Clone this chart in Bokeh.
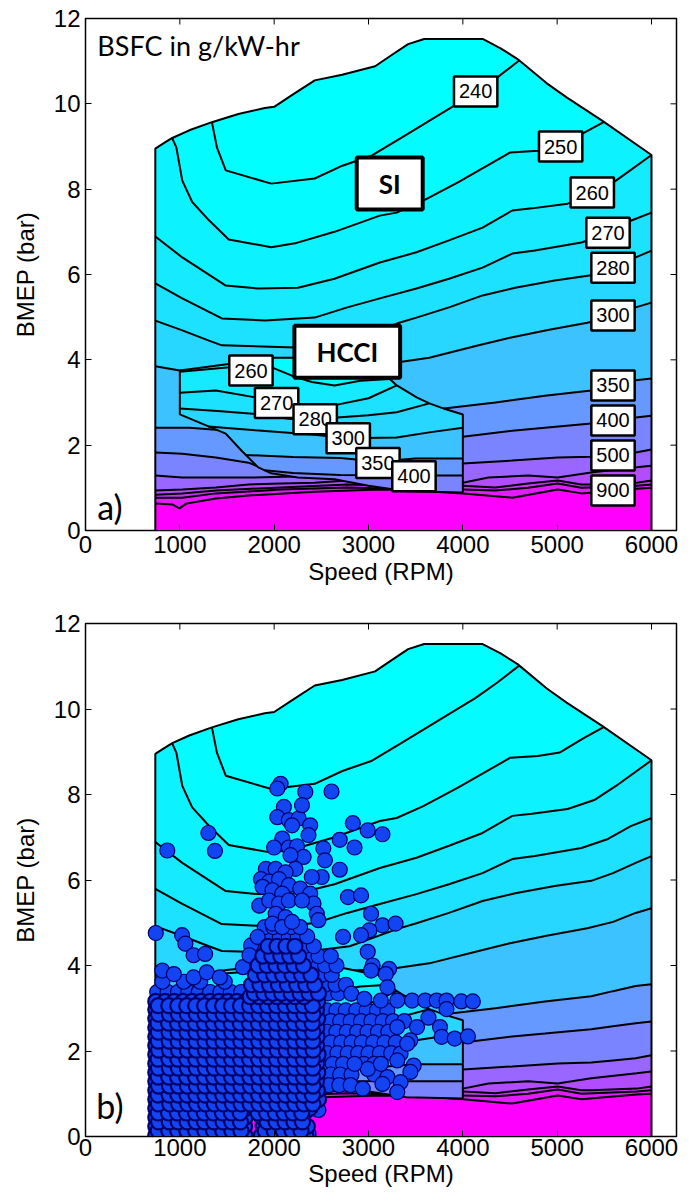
import math
from bokeh.plotting import figure
from bokeh.layouts import column
from bokeh.models import Label, FixedTicker, Range1d
from bokeh.embed import file_html
from bokeh.resources import INLINE

# ---------------- axes ----------------
X_TICKS = [0, 1000, 2000, 3000, 4000, 5000, 6000]
Y_TICKS = [0, 2, 4, 6, 8, 10, 12]
X_MAX = 6265
Y_MAX = 12

# ---------------- SI map: full-load envelope ----------------
ENV_X = [740, 830, 920, 1100, 1340, 1620, 1900, 2000, 2200, 2430, 2720, 3070, 3250, 3420, 3590, 4210, 4400, 4580, 4890, 5100, 5480, 6000]
ENV_Y = [8.95, 9.08, 9.20, 9.38, 9.57, 9.76, 9.90, 9.93, 10.22, 10.55, 10.68, 10.88, 11.15, 11.40, 11.52, 11.52, 11.30, 11.05, 10.48, 10.15, 9.60, 8.80]

# ---------------- SI BSFC contour lines (g/kW-hr) ----------------
SI240_X = [1340, 1393, 1487, 1969, 2429, 2723, 3037, 3351, 3874, 4136, 4366, 4600]
SI240_Y = [9.57, 8.98, 8.44, 8.13, 8.25, 8.55, 8.79, 9.21, 9.91, 10.26, 10.62, 11.02]
SI250_X = [920, 963, 1026, 1131, 1309, 1518, 1969, 2220, 2639, 3120, 3298, 3581, 3948, 4503, 4796, 5026, 5267, 5497]
SI250_Y = [9.19, 8.98, 8.20, 7.70, 7.27, 6.82, 6.64, 6.73, 7.00, 7.38, 7.45, 7.73, 8.16, 8.86, 8.90, 8.98, 9.30, 9.58]
SI260_X = [740, 1026, 1487, 1832, 2251, 2639, 3120, 3508, 3853, 4209, 4524, 4733, 5110, 5393, 5623, 6000]
SI260_Y = [6.89, 6.40, 5.74, 5.67, 5.69, 5.90, 6.28, 6.52, 6.80, 7.10, 7.50, 7.55, 7.66, 7.87, 8.20, 8.80]
SI270_X = [740, 1026, 1445, 1906, 2429, 2775, 3120, 3508, 3853, 4209, 4524, 4764, 5257, 5539, 5780, 6000]
SI270_Y = [5.79, 5.44, 4.97, 4.92, 4.99, 5.23, 5.44, 5.67, 5.90, 6.16, 6.49, 6.56, 6.75, 6.96, 7.26, 7.45]
SI280_X = [740, 1026, 1309, 1445, 2220, 2800, 3300, 3508, 3853, 4209, 4555, 4974, 5361, 5592, 5832, 6000]
SI280_Y = [4.92, 4.69, 4.45, 4.34, 4.29, 4.45, 4.85, 4.99, 5.23, 5.51, 5.69, 5.86, 5.98, 6.16, 6.40, 6.56]
SI300_X = [740, 1000, 2000, 3000, 3298, 3644, 4168, 4500, 4901, 5319, 5592, 5832, 6000]
SI300_Y = [3.85, 3.75, 3.80, 3.90, 3.94, 4.05, 4.34, 4.52, 4.70, 4.87, 5.02, 5.23, 5.34]
SI350_X = [740, 1100, 1382, 2000, 3000, 3800, 4346, 4869, 5361, 5592, 5832, 6000]
SI350_Y = [2.41, 2.41, 2.36, 2.30, 2.60, 2.86, 3.00, 3.16, 3.28, 3.40, 3.52, 3.56]
SI400_X = [740, 1026, 1382, 1728, 1832, 2500, 3300, 4000, 4524, 4869, 5361, 5592, 5832, 6000]
SI400_Y = [1.83, 1.80, 1.71, 1.59, 1.50, 1.70, 2.00, 2.20, 2.34, 2.41, 2.51, 2.58, 2.65, 2.69]
SI500_X = [740, 1026, 1728, 2100, 2500, 3000, 3500, 4000, 4524, 5005, 5361, 5592, 5832, 6000]
SI500_Y = [1.29, 1.24, 1.24, 1.26, 1.28, 1.35, 1.47, 1.57, 1.64, 1.71, 1.73, 1.78, 1.83, 1.90]
SI600_X = [740, 1026, 1382, 1728, 2073, 2429, 2775, 3267, 4000, 4272, 4691, 5005, 5361, 5843, 6000]
SI600_Y = [0.94, 0.96, 1.01, 1.08, 1.10, 1.12, 1.17, 1.17, 1.12, 1.24, 1.29, 1.24, 1.36, 1.48, 1.52]
SI700_X = [740, 1026, 1382, 2073, 2775, 3267, 4000, 4346, 4691, 5005, 5257, 5361, 5843, 6000]
SI700_Y = [0.84, 0.87, 0.94, 1.01, 1.08, 1.05, 1.05, 1.01, 1.10, 1.17, 1.08, 1.08, 1.12, 1.17]
SI800_X = [740, 1026, 1382, 2073, 2775, 3267, 4000, 4346, 4691, 5005, 5257, 5843, 6000]
SI800_Y = [0.77, 0.77, 0.87, 0.96, 1.01, 0.98, 0.96, 0.94, 1.00, 1.10, 1.00, 1.05, 1.08]
SI900_X = [740, 921, 995, 1068, 1382, 1728, 2429, 3120, 3508, 4000, 4524, 5005, 5257, 5843, 6000]
SI900_Y = [0.63, 0.61, 0.52, 0.63, 0.75, 0.82, 0.91, 0.96, 0.94, 0.87, 0.77, 0.96, 0.87, 0.98, 1.00]

# ---------------- HCCI region boundary and contours ----------------
HB_X = [4000, 4000, 3820, 3645, 3510, 3300, 3225, 3135, 3000, 2600, 2220, 2000, 1750, 1520, 1000,
        1000, 1487, 1655, 1832, 1969, 2251, 2639, 3000, 3400, 4000]
HB_Y = [0.89, 2.72, 2.84, 2.98, 3.12, 3.40, 3.55, 3.77, 3.82, 4.00, 4.05, 4.05, 3.95, 3.90, 3.75,
        2.72, 2.27, 1.87, 1.48, 1.34, 1.24, 1.20, 1.05, 0.92, 0.89]
H260_X = [1000, 1500, 1750, 2000, 2220, 2400, 2640, 2911, 3225]
H260_Y = [3.72, 3.82, 3.86, 3.80, 3.60, 3.48, 3.40, 3.51, 3.55]
H270_X = [1000, 1382, 1800, 2021, 2300, 2670, 3000, 3300]
H270_Y = [3.23, 3.28, 3.12, 3.00, 2.95, 2.95, 3.10, 3.40]
H280_X = [1000, 1400, 1880, 2150, 2430, 2670, 3000, 3298, 3645]
H280_Y = [2.86, 2.80, 2.72, 2.62, 2.60, 2.65, 2.70, 2.77, 2.98]
H300_X = [1300, 1800, 2400, 2785, 3298, 3644, 4000]
H300_Y = [2.44, 2.35, 2.25, 2.16, 2.18, 2.30, 2.41]
H350_X = [1700, 2200, 2700, 3100, 3500, 4000]
H350_Y = [1.77, 1.72, 1.70, 1.62, 1.69, 1.69]
H400_X = [1900, 2200, 2700, 3500, 4000]
H400_Y = [1.41, 1.35, 1.30, 1.29, 1.29]

# ---------------- band colours ----------------
C_LT240 = "#00FFFF"
C_240 = "#04FBFF"
C_250 = "#0CF3FF"
C_260 = "#15EAFF"
C_270 = "#1DE2FF"
C_280 = "#28D7FF"
C_300 = "#3CC3FF"
C_350 = "#6699FF"
C_400 = "#7B84FF"
C_500 = "#9966FF"
C_600 = "#B24DFF"
C_700 = "#CC33FF"
C_800 = "#E41BFF"
C_900 = "#FF00FF"

# ---------------- contour labels (panel a) ----------------
LAB_TXT = ["240", "250", "260", "270", "280", "300", "350", "400", "500", "900",
           "260", "270", "280", "300", "350", "400"]
LAB_X = [4136, 5037, 5372, 5539, 5592, 5592, 5592, 5592, 5592, 5592,
         1754, 2026, 2435, 2785, 3100, 3482]
LAB_Y = [10.29, 9.00, 7.92, 6.98, 6.16, 5.04, 3.40, 2.58, 1.76, 0.94,
         3.75, 2.99, 2.61, 2.16, 1.58, 1.27]
BOX_TXT = ["SI", "HCCI"]
BOX_X = [3225, 2775]
BOX_Y = [8.13, 4.19]

# ---------------- operating points (panel b) ----------------
# dense cloud: rows of points (BMEP of the row, speeds in the row)
DENSE_ROW_Y = [0.03, 0.24, 0.45, 0.66, 0.87, 1.08, 1.29, 1.50, 1.71, 1.92, 2.13, 2.34, 2.55, 2.76, 2.97, 3.16,
               0.13, 0.34, 0.55, 0.76, 0.97, 1.18, 1.39, 1.60, 1.81, 2.02, 2.23, 2.44, 2.65, 2.86, 3.06, 3.27, 3.47,
               3.35, 3.55, 3.78, 4.00, 4.22, 4.45]
DENSE_ROW_X = [
    [745, 835, 932, 1028, 1122, 1217, 1313, 1406, 1502, 1598, 1690, 1865, 1958, 2052, 2143, 2236, 2335],
    [745, 842, 936, 1025, 1126, 1221, 1310, 1411, 1505, 1594, 1686, 1884, 1972, 2066, 2161, 2254, 2352],
    [745, 830, 926, 1021, 1117, 1209, 1306, 1402, 1497, 1591, 1692, 1872, 1966, 2058, 2152, 2248],
    [745, 846, 941, 1036, 1131, 1226, 1321, 1414, 1511, 1606, 1701, 1796, 1891, 1986, 2081, 2176, 2271, 2378],
    [745, 836, 931, 1024, 1119, 1214, 1309, 1406, 1499, 1596, 1689, 1784, 1881, 1976, 2071, 2166, 2262, 2364, 2470],
    [745, 841, 936, 1031, 1126, 1219, 1316, 1411, 1506, 1601, 1694, 1791, 1886, 1979, 2076, 2171, 2266, 2361, 2458],
    [745, 833, 928, 1023, 1118, 1213, 1308, 1403, 1498, 1593, 1688, 1783, 1878, 1973, 2068, 2163, 2258, 2353, 2448],
    [745, 843, 938, 1033, 1128, 1223, 1318, 1413, 1508, 1603, 1698, 1793, 1888, 1983, 2078, 2173, 2268, 2363, 2462],
    [745, 838, 933, 1026, 1121, 1216, 1311, 1408, 1503, 1596, 1691, 1786, 1883, 1976, 2073, 2166, 2263, 2356, 2451],
    [745, 844, 939, 1034, 1129, 1224, 1319, 1414, 1509, 1604, 1699, 1794, 1889, 1984, 2079, 2174, 2269, 2364, 2466],
    [745, 835, 930, 1025, 1120, 1215, 1310, 1405, 1500, 1595, 1690, 1785, 1880, 1975, 2070, 2165, 2260, 2355, 2450],
    [745, 840, 935, 1030, 1125, 1220, 1315, 1410, 1505, 1600, 1695, 1790, 1885, 1980, 2075, 2170, 2265, 2360, 2455],
    [745, 836, 931, 1027, 1122, 1218, 1312, 1407, 1502, 1598, 1692, 1788, 1882, 1978, 2072, 2168, 2262, 2358, 2452],
    [745, 842, 937, 1032, 1127, 1222, 1317, 1412, 1507, 1602, 1697, 1792, 1887, 1982, 2077, 2172, 2267, 2362, 2460],
    [745, 834, 929, 1024, 1119, 1214, 1309, 1404, 1499, 1594, 1689, 1784, 1879, 1974, 2069, 2164, 2259, 2354, 2449],
    [745, 845, 940, 1035, 1130, 1225, 1320, 1415, 1510, 1605, 1700, 1795, 1890, 1985, 2080, 2175, 2270, 2365, 2460],
    [770, 884, 978, 1074, 1168, 1265, 1358, 1455, 1552, 1648, 1905, 2000, 2095, 2190, 2285],
    [775, 888, 983, 1077, 1172, 1262, 1361, 1458, 1550, 1643, 1925, 2020, 2115, 2210, 2300],
    [770, 880, 974, 1070, 1166, 1259, 1356, 1451, 1547, 1640, 1830, 1920, 2012, 2105, 2198, 2292],
    [772, 893, 987, 1083, 1177, 1272, 1366, 1462, 1558, 1650, 1745, 1838, 1933, 2028, 2124, 2219, 2315, 2410],
    [768, 886, 980, 1076, 1170, 1266, 1360, 1455, 1550, 1646, 1740, 1835, 1930, 2025, 2120, 2215, 2310, 2405],
    [774, 890, 985, 1080, 1175, 1268, 1364, 1459, 1554, 1648, 1748, 1842, 1937, 2032, 2127, 2222, 2317, 2412],
    [770, 882, 976, 1072, 1167, 1262, 1357, 1452, 1548, 1642, 1742, 1836, 1931, 2026, 2121, 2216, 2311, 2406],
    [773, 889, 984, 1079, 1174, 1270, 1365, 1460, 1555, 1649, 1746, 1841, 1935, 2030, 2125, 2220, 2316, 2410],
    [769, 884, 979, 1074, 1169, 1264, 1359, 1454, 1549, 1644, 1739, 1834, 1929, 2024, 2119, 2214, 2309, 2404],
    [775, 891, 986, 1081, 1176, 1271, 1366, 1461, 1556, 1651, 1747, 1843, 1938, 2033, 2128, 2223, 2318, 2413],
    [771, 887, 982, 1077, 1172, 1267, 1362, 1457, 1552, 1647, 1741, 1836, 1932, 2027, 2122, 2217, 2312, 2407],
    [772, 886, 981, 1076, 1171, 1266, 1361, 1456, 1551, 1646, 1744, 1839, 1934, 2029, 2124, 2219, 2314, 2409],
    [768, 881, 976, 1071, 1166, 1261, 1356, 1451, 1546, 1641, 1738, 1833, 1928, 2023, 2118, 2213, 2308, 2403],
    [774, 890, 985, 1080, 1175, 1270, 1365, 1460, 1555, 1650, 1746, 1841, 1936, 2031, 2126, 2221, 2316, 2411],
    [770, 883, 978, 1073, 1168, 1263, 1358, 1453, 1548, 1643, 1740, 1835, 1930, 2025, 2120, 2215, 2310, 2405],
    [1745, 1840, 1935, 2030, 2125, 2220, 2315],
    [1790, 1885, 1980, 2075, 2170, 2265],
    [1790, 1890, 1985, 2080, 2180, 2275, 2370, 2470],
    [1760, 1850, 1950, 2045, 2140, 2240, 2335, 2430],
    [1800, 1900, 1995, 2090, 2190, 2290, 2390],
    [1830, 1925, 2020, 2115, 2210, 2310],
    [1880, 1975, 2070, 2165, 2260],
    [1935, 2030, 2125, 2220],
]
# looser parts of the cloud: rows of points
LOOSE_ROW_Y = [3.38, 3.62, 3.35, 3.55, 3.78, 4.00, 4.22, 4.45, 4.68, 4.90,
               2.95, 2.70, 2.45, 2.20, 1.95, 1.70, 1.45, 1.20]
LOOSE_ROW_X = [
    [760, 870, 980, 1090, 1200, 1320, 1430, 1540, 1650],
    [815, 1042, 1216, 1476],
    [2570, 2680],
    [2540, 2650, 2760],
    [2500, 2610],
    [2420, 2540, 2660],
    [1790, 2360, 2470, 2600],
    [1840, 2320, 2420],
    [1870, 1965, 2060, 2155, 2250, 2350],
    [1900, 1990, 2085, 2180, 2275],
    [2560, 2660, 2760, 2870, 2980, 3090, 3200],
    [2600, 2700, 2810, 2920, 3030, 3150, 3260, 3380],
    [2560, 2660, 2770, 2880, 2990, 3100, 3210],
    [2600, 2710, 2820, 2930, 3050, 3170, 3290],
    [2560, 2670, 2780, 2890, 3000, 3120, 3240],
    [2620, 2730, 2950, 3060],
    [2600, 2700, 2820, 3060],
    [2580, 2690, 2810],
]
# isolated points
PT_X = [2068, 2033, 2330, 2608, 2103, 2033, 2155, 2260, 2295, 2382, 2364, 2190, 1303, 1372, 867,
        2834, 2992, 3148, 2695, 2852, 2086, 1999, 2155, 2242, 2312, 2173, 2521, 2538, 2695, 2504,
        2399, 2225, 1912, 2016, 2121, 1860, 1947, 2051, 2155, 1877, 1982, 2086, 1842, 1947, 2051,
        2155, 2016, 2121, 1982, 2086, 2190, 2277, 2382, 2417, 2452, 2469, 2295,
        2782, 2921, 3027, 3148, 3287, 3009, 2921, 2730, 2992, 3044, 3027, 3218, 3183, 3201,
        745, 1024, 1059, 1146, 1268, 815, 937, 1146, 1285, 1424, 1668, 1755, 1825, 1738,
        2817, 2956, 3131, 3305, 3462, 3601, 3723, 3827, 3984, 4106,
        3636, 3827, 3758, 3775, 3914, 4054, 3514, 3305, 3444, 3340, 3410, 3479, 3444, 3305,
        3201, 3340, 3305, 3148, 2992, 2939, 2852, 3131,
        2330, 2469, 2260, 2225, 2364, 2086]
PT_Y = [8.25, 8.14, 8.06, 8.07, 7.71, 7.47, 7.40, 7.44, 7.75, 7.28, 7.05, 7.28, 7.10, 6.68, 6.69,
        7.33, 7.16, 7.07, 6.94, 6.76, 6.97, 6.76, 6.76, 6.79, 6.54, 6.58, 6.74, 6.46, 6.24, 6.07,
        6.07, 6.26, 6.26, 6.26, 6.18, 6.02, 5.96, 6.02, 5.88, 5.84, 5.76, 5.68, 5.40, 5.52, 5.45,
        5.52, 5.21, 5.13, 4.98, 4.90, 5.02, 5.80, 5.68, 5.45, 5.21, 5.06, 5.52,
        5.60, 5.64, 5.21, 4.94, 4.98, 4.82, 4.71, 4.67, 4.32, 4.00, 3.88, 3.92, 3.80, 3.49,
        4.76, 4.71, 4.51, 4.24, 4.27, 3.88, 3.80, 3.72, 3.84, 3.72, 3.96, 4.47, 4.67, 4.24,
        3.34, 3.22, 3.18, 3.18, 3.18, 3.18, 3.18, 3.18, 3.16, 3.16,
        2.78, 2.98, 2.56, 2.33, 2.29, 2.34, 2.56, 2.56, 2.25, 1.94, 2.17, 1.66, 1.51, 1.78,
        1.39, 1.27, 1.04, 1.23, 1.58, 1.12, 1.70, 1.70,
        0.56, 0.62, 0.37, 0.14, 0.06, 0.06]

XS = 446.0  # rpm per bar used only for nearest-segment search


def path_param(bx, by, x, y):
    best_d, best_t = None, 0.0
    for i in range(len(bx) - 1):
        ax, ay = bx[i] / XS, by[i]
        ex, ey = bx[i + 1] / XS, by[i + 1]
        qx, qy = x / XS, y
        dx, dy = ex - ax, ey - ay
        L = dx * dx + dy * dy
        t = 0.0 if L == 0 else min(1.0, max(0.0, ((qx - ax) * dx + (qy - ay) * dy) / L))
        d = (ax + t * dx - qx) ** 2 + (ay + t * dy - qy) ** 2
        if best_d is None or d < best_d - 1e-12:
            best_d, best_t = d, i + t
    return best_t


def region_above(bx, by, lx, ly):
    ts = path_param(bx, by, lx[0], ly[0])
    te = path_param(bx, by, lx[-1], ly[-1])
    idx = [i for i in range(len(bx)) if te + 1e-9 < i < ts - 1e-9]
    return list(lx) + [bx[i] for i in idx], list(ly) + [by[i] for i in idx]


SI_PATH_X = [6000] + ENV_X[::-1] + [ENV_X[0]]
SI_PATH_Y = [0] + ENV_Y[::-1] + [0]

SI_LINES = [(SI240_X, SI240_Y), (SI250_X, SI250_Y), (SI260_X, SI260_Y), (SI270_X, SI270_Y),
            (SI280_X, SI280_Y), (SI300_X, SI300_Y), (SI350_X, SI350_Y), (SI400_X, SI400_Y),
            (SI500_X, SI500_Y), (SI600_X, SI600_Y), (SI700_X, SI700_Y), (SI800_X, SI800_Y),
            (SI900_X, SI900_Y)]
SI_ABOVE = [C_LT240, C_240, C_250, C_260, C_270, C_280, C_300, C_350, C_400, C_500, C_600, C_700, C_800]
H_LINES = [(H260_X, H260_Y), (H270_X, H270_Y), (H280_X, H280_Y), (H300_X, H300_Y),
           (H350_X, H350_Y), (H400_X, H400_Y)]
H_ABOVE = [C_240, C_260, C_270, C_280, C_300, C_350]


def draw_map(p):
    xs, ys, cs = [SI_PATH_X], [SI_PATH_Y], [C_900]
    for (lx, ly), c in reversed(list(zip(SI_LINES, SI_ABOVE))):
        rx, ry = region_above(SI_PATH_X, SI_PATH_Y, lx, ly)
        xs.append(rx); ys.append(ry); cs.append(c)
    p.patches(xs=xs, ys=ys, fill_color=cs, line_color=None)
    p.multi_line(xs=[l[0] for l in SI_LINES], ys=[l[1] for l in SI_LINES], line_color="black", line_width=2)
    p.line(x=SI_PATH_X[::-1], y=SI_PATH_Y[::-1], line_color="black", line_width=2)

    hx, hy, hc = [HB_X], [HB_Y], [C_400]
    for (lx, ly), c in reversed(list(zip(H_LINES, H_ABOVE))):
        rx, ry = region_above(HB_X, HB_Y, lx, ly)
        hx.append(rx); hy.append(ry); hc.append(c)
    p.patches(xs=hx, ys=hy, fill_color=hc, line_color=None)
    p.multi_line(xs=[l[0] for l in H_LINES], ys=[l[1] for l in H_LINES], line_color="black", line_width=2)
    p.line(x=HB_X, y=HB_Y, line_color="black", line_width=2)


def make_fig(ml, mr, mt, mb, lab_standoff, axlab_standoff):
    p = figure(width=690, height=600, x_range=Range1d(0, X_MAX), y_range=Range1d(0, Y_MAX),
               output_backend="svg", toolbar_location=None,
               min_border_left=ml, min_border_right=mr, min_border_top=mt, min_border_bottom=mb)
    p.grid.visible = False
    p.outline_line_color = "black"
    p.outline_line_width = 1.5
    p.xaxis.ticker = FixedTicker(ticks=X_TICKS)
    p.yaxis.ticker = FixedTicker(ticks=Y_TICKS)
    p.xaxis.axis_label = "Speed (RPM)"
    p.yaxis.axis_label = "BMEP (bar)"
    for ax in (p.xaxis[0], p.yaxis[0]):
        ax.major_label_text_font = "Liberation Sans"
        ax.major_label_text_font_size = "24px"
        ax.major_label_text_color = "black"
        ax.axis_label_text_font = "Liberation Sans"
        ax.axis_label_text_font_size = "24px"
        ax.axis_label_text_font_style = "normal"
        ax.axis_label_text_color = "black"
        ax.major_tick_in = 6
        ax.major_tick_out = 0
        ax.minor_tick_line_color = None
        ax.axis_line_color = "black"
        ax.major_tick_line_color = "black"
    p.xaxis.major_label_standoff = lab_standoff
    p.xaxis.axis_label_standoff = axlab_standoff
    p.yaxis.major_label_standoff = 5
    p.yaxis.axis_label_standoff = 12
    draw_map(p)
    # inward tick marks on the top and right edges of the box
    p.scatter(x=X_TICKS, y=[Y_MAX] * len(X_TICKS), marker="dash", size=12, angle=math.pi / 2,
              line_color="black", line_width=1)
    p.scatter(x=[X_MAX] * len(Y_TICKS), y=Y_TICKS, marker="dash", size=12,
              line_color="black", line_width=1)
    return p


# ---------------- panel a ----------------
p1 = make_fig(85, 6, 18, 70, 5, 2)
for t, x, y in zip(LAB_TXT, LAB_X, LAB_Y):
    p1.add_layout(Label(x=x, y=y, text=t, text_font="Liberation Sans", text_font_size="20px",
                        text_align="center", text_baseline="middle", text_color="black",
                        background_fill_color="white", border_line_color="black",
                        border_line_width=2.5, padding=(5, 8)))
for t, x, y in zip(BOX_TXT, BOX_X, BOX_Y):
    p1.add_layout(Label(x=x, y=y, text=t, text_font="Lato", text_font_size="26px",
                        text_font_style="bold", text_align="center", text_baseline="middle",
                        text_color="black", background_fill_color="white",
                        border_line_color="black", border_line_width=4, padding=(22, 10)))
p1.add_layout(Label(x=125, y=11.37, text="BSFC in g/kW-hr", text_font="Lato", text_font_size="27px",
                    text_align="left", text_baseline="middle", text_color="black"))
p1.add_layout(Label(x=125, y=0.56, text="a)", text_font="Lato", text_font_size="34px",
                    text_align="left", text_baseline="middle", text_color="black"))

# ---------------- panel b ----------------
p2 = make_fig(77, 14, 23, 64, 2, 1)


def flatten(rows_y, rows_x):
    fx, fy = [], []
    for yv, row in zip(rows_y, rows_x):
        fx += row
        fy += [yv] * len(row)
    return fx, fy


dx_, dy_ = flatten(DENSE_ROW_Y, DENSE_ROW_X)
lx_, ly_ = flatten(LOOSE_ROW_Y, LOOSE_ROW_X)
P_FILL = "#1244F2"
P_EDGE = "#00006A"
p2.scatter(x=lx_ + PT_X, y=ly_ + PT_Y, size=15, fill_color=P_FILL, line_color=P_EDGE, line_width=1.2)
# heavily overlapped core of the cloud: the many overlapping edges read as navy
p2.scatter(x=dx_, y=dy_, size=15, fill_color=P_FILL, line_color=P_EDGE, line_width=2.2)
p2.add_layout(Label(x=115, y=0.73, text="b)", text_font="Lato", text_font_size="34px",
                    text_align="left", text_baseline="middle", text_color="black"))

layout = column(p1, p2, spacing=0)
open("out.html", "w").write(file_html(layout, INLINE))
